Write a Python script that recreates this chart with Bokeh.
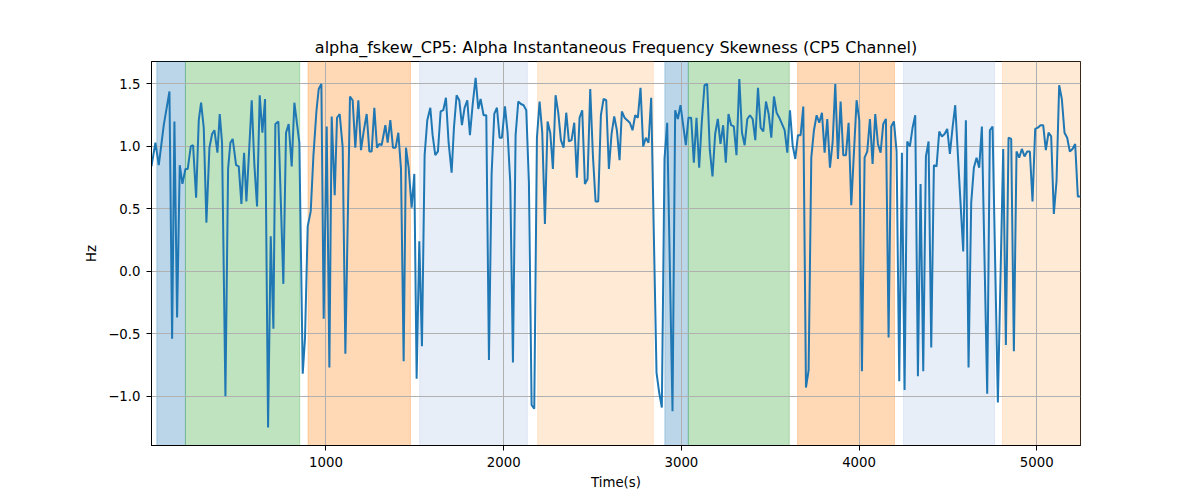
"""
Alpha instantaneous frequency skewness (CP5) over time, with the
condition bands shaded behind the trace.
"""

from bokeh.embed import file_html
from bokeh.models import CustomJSTickFormatter, FixedTicker, Range1d
from bokeh.plotting import figure
from bokeh.resources import INLINE

# ---------------------------------------------------------------------------
# Data
# ---------------------------------------------------------------------------

time_s = [
    18, 40, 59, 87, 119, 134, 147, 162, 177, 192, 209, 222, 239, 252, 269,
    284, 297, 312, 327, 344, 359, 372, 389, 402, 415, 434, 449, 462, 475,
    494, 509, 524, 539, 552, 565, 582, 597, 612, 627, 642, 657, 674,
    689, 704, 715, 732, 760, 775, 790, 807, 822, 850, 869, 882, 897, 914,
    929, 946, 959, 974, 987, 1004, 1019, 1032, 1049, 1062, 1077, 1094, 1109,
    1135, 1150, 1165, 1182, 1197, 1212, 1229, 1244, 1257, 1272, 1287, 1300,
    1313, 1334, 1347, 1362, 1377, 1392, 1407, 1422, 1437, 1450, 1465, 1482,
    1497, 1510, 1525, 1540, 1555, 1570, 1587, 1600, 1615, 1630, 1645, 1660,
    1675, 1690, 1707, 1720, 1735, 1750, 1765, 1780, 1795, 1810, 1825, 1842,
    1857, 1870, 1887, 1902, 1917, 1932, 1947, 1962, 1977, 1990,
    2007, 2022, 2037, 2052, 2067, 2082, 2097, 2112, 2127, 2142, 2157, 2172,
    2187, 2202, 2217, 2232, 2247, 2262, 2277, 2292, 2307, 2322, 2337, 2352,
    2367, 2382, 2397, 2412, 2427, 2442, 2457, 2472, 2487, 2502, 2517, 2532,
    2547, 2562, 2577, 2592, 2607, 2622, 2637, 2652,
    2665, 2680, 2695, 2710, 2725, 2740, 2755, 2770, 2785, 2800, 2815, 2830,
    2860, 2875, 2890, 2905, 2920, 2950, 2965, 2980, 2995, 3010, 3025, 3040,
    3055, 3070, 3085, 3100, 3115, 3130, 3145, 3160, 3175, 3190, 3205, 3220,
    3235, 3250, 3265, 3280, 3295, 3310,
    3326, 3341, 3356, 3371, 3386, 3401, 3416, 3431, 3446, 3461, 3476, 3491,
    3506, 3521, 3536, 3551, 3566, 3581, 3596, 3611, 3626, 3641, 3656, 3671,
    3686, 3701, 3716, 3731, 3746, 3761, 3776, 3791, 3806, 3821, 3836, 3851,
    3866, 3881, 3896, 3911, 3926, 3941, 3956,
    3986, 4001, 4016, 4031, 4046, 4061, 4076, 4091, 4106, 4121, 4136, 4151,
    4166, 4181, 4196, 4211, 4226, 4241, 4256, 4271, 4286, 4301, 4316, 4331,
    4346, 4361, 4376, 4391, 4406, 4421, 4436, 4451, 4466, 4481, 4496, 4511,
    4526, 4541, 4563, 4586, 4601, 4616, 4631, 4646, 4661, 4676, 4691, 4721,
    4736, 4751, 4781, 4811, 4826, 4841, 4856, 4871, 4886, 4901, 4916, 4931,
    4946, 4961, 4976, 4991, 5006, 5021, 5036, 5051, 5066, 5081, 5096, 5111,
    5126, 5141, 5156, 5171, 5186, 5201, 5216, 5231, 5246,
]

skew_hz = [
    0.84, 1.03, 0.85, 1.17, 1.44, -0.54, 1.20, -0.37, 0.85, 0.70, 0.82, 0.82,
    1.00, 1.01, 0.59, 1.21, 1.35, 1.15, 0.39, 0.99, 1.10, 1.13, 0.95, 1.26,
    1.03, -1.00, 0.82, 1.03, 1.06, 0.85, 0.84, 0.54, 0.95, 0.56, 0.90, 1.37,
    0.85, 0.52, 1.41, 1.11, 1.38, -1.25,
    0.28, -0.46, 1.18, 1.20, -0.10, 1.11, 1.18, 0.84, 1.35, 1.03, -0.82,
    -0.53, 0.36, 0.48, 0.92, 1.28, 1.46, 1.50, -0.38, 1.16, -0.77, 1.24,
    0.61, 1.23, 1.26, 0.99, -0.66, 1.40, 1.37, 0.99, 1.37, 0.97, 1.12, 1.26,
    0.96, 0.96, 1.31, 0.99, 1.02, 1.01, 1.17, 1.03, 1.21, 0.99, 0.99, 1.11,
    0.82, -0.72, 0.99, 0.83, 0.51, 0.78, -0.86, 0.24, -0.60, 0.93, 1.21,
    1.31, 1.09, 0.93, 0.96, 1.28, 1.29, 1.39, 1.03, 0.79, 1.15, 1.41, 1.37,
    1.17, 1.31, 1.37, 1.09, 1.33, 1.55, 1.30, 1.38, 1.25, 1.25, -0.71, 0.78,
    1.26, 1.31, 1.07, 1.07,
    1.32, 1.11, 0.71, -0.73, 1.09, 1.36, 1.34, 1.33, 1.29, 0.71, -1.07,
    -1.10, 1.07, 1.36, 1.11, 0.38, 1.20, 1.11, 0.82, 1.41, 1.27, 1.05, 0.99,
    1.27, 1.04, 1.05, 1.19, 0.75, 1.23, 1.29, 0.70, 0.74, 1.46, 0.93, 0.56,
    0.56, 1.25, 1.38, 1.37, 0.82, 1.10, 1.24, 1.13, 0.89,
    1.28, 1.23, 1.21, 1.19, 1.13, 1.25, 1.23, 1.47, 1.00, 1.07, 1.03, 1.39,
    -0.81, -0.97, -1.09, 0.90, 1.19, -1.12, 1.29, 1.22, 1.33, 1.17, 1.01,
    1.23, 1.23, 0.87, 1.23, 0.83, 1.20, 1.49, 1.50, 0.97, 0.76, 1.10, 1.22,
    1.02, 1.17, 0.87, 1.26, 1.17, 1.16, 0.93,
    1.54, 1.11, 1.01, 1.22, 1.25, 1.22, 1.05, 1.47, 1.15, 1.12, 1.36, 1.26,
    1.07, 1.40, 1.27, 1.23, 1.18, 1.13, 0.95, 1.29, 1.01, 0.90, 1.09, 1.09,
    1.32, -0.93, -0.79, 0.91, 1.13, 1.25, 1.19, 1.27, 0.95, 1.22, 0.83, 1.03,
    1.50, 0.90, 1.36, 0.93, 0.93, 1.19, 0.53,
    1.37, 1.21, -0.80, 0.91, 0.96, 1.22, 0.86, 1.26, 1.02, 0.95, 1.18, 1.22,
    -0.53, 1.16, 1.20, 0.96, -0.88, 0.95, -0.95, 1.04, 1.00, 1.15, 1.25,
    -0.84, 0.70, -0.80, 0.92, 1.04, -0.61, 0.85, 0.84, 1.12, 1.08, 1.10,
    1.14, 0.94, 1.15, 1.33, 0.75, 0.16, 1.21, -0.77, 0.55, 0.83, 0.91, 0.83,
    1.16, -0.98, 1.13, 1.16, -1.05, 0.98, -0.59, 1.07, 1.06, -0.64, 0.96,
    0.91, 0.98, 0.92, 0.96, 0.96, 0.56, 1.14, 1.15, 1.17, 1.17, 0.97, 1.11,
    1.08, 0.46, 0.72, 1.49, 1.38, 1.11, 1.07, 0.96, 0.98, 1.02, 0.60, 0.60,
]

# shaded condition bands: start, end, colour
band_start = [48, 209, 899, 1527, 2191, 2907, 3039, 3654, 4250, 4807]
band_end = [209, 852, 1475, 2133, 2842, 3039, 3607, 4199, 4762, 5246]
band_color = [
    "#1f77b4", "#2ca02c", "#ff7f0e", "#aec7e8", "#ffbb78",
    "#1f77b4", "#2ca02c", "#ff7f0e", "#aec7e8", "#ffbb78",
]

x_ticks = [1000, 2000, 3000, 4000, 5000]
y_ticks = [-1.0, -0.5, 0.0, 0.5, 1.0, 1.5]

FONT = "DejaVu Sans"


# ---------------------------------------------------------------------------
# Figure
# ---------------------------------------------------------------------------

def build_figure():
    p = figure(
        title="alpha_fskew_CP5: Alpha Instantaneous Frequency Skewness (CP5 Channel)",
        x_axis_label="Time(s)",
        y_axis_label="Hz",
        width=1192, height=492,
        x_range=Range1d(18, 5246),
        y_range=Range1d(-1.394, 1.68),
        output_backend="svg",
        toolbar_location=None,
        min_border_left=151, min_border_right=112,
        min_border_top=61, min_border_bottom=47,
    )

    # bands sit below the grid, the trace above it
    p.quad(left=band_start, right=band_end, bottom=-10, top=10,
           fill_color=band_color, fill_alpha=0.3,
           line_color=band_color, line_alpha=0.3, line_width=1,
           level="image")

    p.line(time_s, skew_hz, line_color="#1f77b4", line_width=2)

    p.title.text_font = FONT
    p.title.text_font_size = "16px"
    p.title.text_font_style = "normal"
    p.title.text_color = "black"
    p.title.align = "center"

    p.outline_line_color = "black"
    p.outline_line_width = 1
    p.background_fill_color = "white"
    p.border_fill_color = "white"

    for grid in (p.xgrid, p.ygrid):
        grid.grid_line_color = "#b0b0b0"
        grid.grid_line_width = 1

    p.xaxis.ticker = FixedTicker(ticks=x_ticks)
    p.yaxis.ticker = FixedTicker(ticks=y_ticks)
    p.yaxis.formatter = CustomJSTickFormatter(
        code="return tick.toFixed(1).replace('-', '\u2212');")

    for axis in (p.xaxis, p.yaxis):
        axis.axis_line_color = "black"
        axis.major_tick_line_color = "black"
        axis.major_tick_out = 5
        axis.major_tick_in = 0
        axis.minor_tick_line_color = None
        axis.major_label_text_font = FONT
        axis.major_label_text_font_size = "13.3px"
        axis.major_label_text_color = "black"
        axis.axis_label_text_font = FONT
        axis.axis_label_text_font_size = "13.3px"
        axis.axis_label_text_font_style = "normal"
        axis.axis_label_text_color = "black"
        axis.major_label_standoff = 6

    p.xaxis.axis_label_standoff = 5
    p.yaxis.axis_label_standoff = 6
    return p


p = build_figure()
open("out.html", "w").write(file_html(p, INLINE))
